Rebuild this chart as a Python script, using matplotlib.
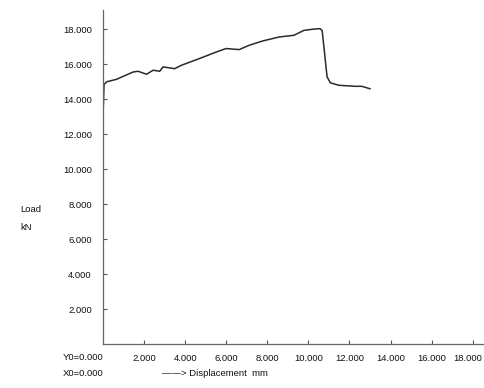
import matplotlib

matplotlib.use("Agg")
import matplotlib.pyplot as plt
import matplotlib.transforms as mtransforms

# displacement (mm) and load (kN)
displacement = [0.0, 0.05, 0.18, 0.66, 0.98, 1.47, 1.71, 2.12, 2.44, 2.76, 2.92, 3.49,
                3.81, 4.70, 5.51, 5.99, 6.63, 7.12, 7.76, 8.57, 9.30, 9.78, 10.18,
                10.56, 10.67, 10.91, 11.07, 11.48, 12.28, 12.60, 13.00]
load = [13.0, 14.85, 15.0, 15.14, 15.31, 15.56, 15.60, 15.43, 15.66, 15.60, 15.85, 15.75,
        15.94, 16.33, 16.70, 16.90, 16.84, 17.09, 17.33, 17.56, 17.66, 17.94, 18.00,
        18.04, 17.94, 15.28, 14.94, 14.80, 14.74, 14.74, 14.60]
x_ticks = [2, 4, 6, 8, 10, 12, 14, 16, 18]
y_ticks = [2, 4, 6, 8, 10, 12, 14, 16, 18]

plt.rcParams["font.family"] = ["Liberation Sans Narrow", "Liberation Sans", "DejaVu Sans"]

fig = plt.figure(figsize=(4.85, 3.88), dpi=100)
ax = fig.add_axes([0.2124, 0.1134, 0.7876, 0.8606])
ax.plot(displacement, load, color="#2a2a2a", linewidth=1.1)
ax.set_xlim(0, 18.6)
ax.set_ylim(0, 19.1)
ax.set_xticks(x_ticks, labels=[f"{v:.3f}" for v in x_ticks])
ax.set_yticks(y_ticks, labels=[f"{v:.3f}" for v in y_ticks])
ax.tick_params(direction="in", length=3, width=0.8, color="#555555",
               labelsize=6.8, labelcolor="#111111")
ax.tick_params(axis="y", pad=8)
ax.tick_params(axis="x", pad=7)
for side in ("top", "right"):
    ax.spines[side].set_visible(False)
for side in ("left", "bottom"):
    ax.spines[side].set_color("#666666")
    ax.spines[side].set_linewidth(0.9)

# keep the last x label inside the canvas, as in the scan
last = ax.get_xticklabels()[-1]
last.set_transform(last.get_transform()
                   + mtransforms.ScaledTranslation(-5 / 100, 0, fig.dpi_scale_trans))

text_kw = dict(fontsize=6.8, color="#111111", transform=fig.transFigure)
fig.text(20 / 485, 1 - 210 / 388, "Load", va="center", **text_kw)
fig.text(20 / 485, 1 - 228 / 388, "kN", va="center", **text_kw)
fig.text(63 / 485, 1 - 358 / 388, "Y0=0.000", va="center", **text_kw)
fig.text(63 / 485, 1 - 374 / 388, "X0=0.000", va="center", **text_kw)
fig.text(162 / 485, 1 - 374 / 388, "\u2014\u2014> Displacement  mm", va="center", **text_kw)

fig.savefig("out.png", dpi=100)
plt.close(fig)
